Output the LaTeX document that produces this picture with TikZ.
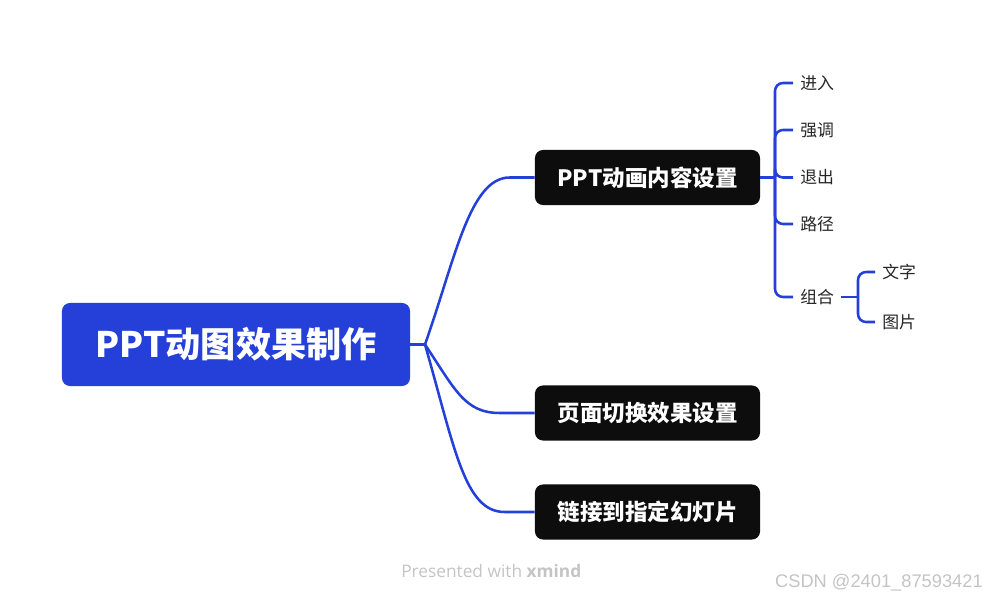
\documentclass[tikz,border=0pt]{standalone}
\usepackage{fontspec}
\setmainfont{Noto Sans CJK SC}
\newfontfamily\markfont{Open Sans}
\newfontfamily\csdnfont{Liberation Sans}
\usetikzlibrary{calc}

\definecolor{mapblue}{RGB}{36,64,216}
\definecolor{mapblack}{RGB}{13,13,13}
\definecolor{leafgray}{RGB}{38,38,38}
\definecolor{markgray}{RGB}{196,196,196}

\tikzset{
  rootbox/.style={fill=mapblue, rounded corners=0.2cm, minimum width=8.7cm,
    minimum height=2.075cm, text=white, font=\bfseries\fontsize{25}{30}\selectfont},
  topicbox/.style={fill=mapblack, rounded corners=0.2cm, minimum width=5.625cm,
    minimum height=1.375cm, text=white, font=\bfseries\fontsize{16}{19}\selectfont},
  leaf/.style={anchor=west, inner xsep=0.175cm, inner ysep=2pt, text=leafgray,
    font=\fontsize{12}{14}\selectfont},
  link/.style={draw=mapblue, line width=1.8pt},
}

\begin{document}
\begin{tikzpicture}[x=0.025cm, y=-0.025cm]
        \useasboundingbox (0,0) rectangle (987,602);

        % Central topic
        \node[rootbox] (root) at (236,344.5) {PPT动图效果制作};
        \coordinate (j0) at (425,344.5);

        % Main topics
        \node[topicbox] (t1) at (647.5,177.5) {PPT动画内容设置};
        \node[topicbox] (t2) at (647.5,413) {页面切换效果设置};
        \node[topicbox] (t3) at (647.5,512) {链接到指定幻灯片};

        % Links to main topics
        \draw[link] (root.east) -- (j0);
        \draw[link] (j0) .. controls +(30,-85) and +(-40,0) .. ($(t1.west)+(-25,0)$) -- (t1.west);
        \draw[link] (j0) .. controls +(30,45) and +(-35,0) .. ($(t2.west)+(-35,0)$) -- (t2.west);
        \draw[link] (j0) .. controls +(30,105) and +(-40,0) .. ($(t3.west)+(-30,0)$) -- (t3.west);

        % Subtopics of t1
        \coordinate (j1) at (775,177.5);
        \node[leaf] (enter) at (793,83) {进入};
        \node[leaf] (emph) at (793,130) {强调};
        \node[leaf] (exit) at (793,177.5) {退出};
        \node[leaf] (path) at (793,224) {路径};
        \node[leaf] (group) at (793,297) {组合};

        \draw[link] (t1.east) -- (j1);
        \foreach \leafname in {enter,emph,exit,path,group}
            \draw[link, rounded corners=0.2cm] (j1) |- (\leafname.west);

        % Subtopics of group
        \coordinate (j2) at (858,297);
        \node[leaf] (text) at (875,272) {文字};
        \node[leaf] (image) at (875,322) {图片};

        \draw[link] (group.east) -- (j2);
        \draw[link, rounded corners=0.2cm] (j2) |- (text.west);
        \draw[link, rounded corners=0.2cm] (j2) |- (image.west);

        % Footer
        \node[anchor=west, inner sep=0pt, text=markgray, font=\markfont\fontsize{12.3}{14}\selectfont]
            (credit) at (401,571) {Presented with \textbf{xmind}};
        \node[anchor=east, inner sep=0pt, text=markgray, font=\csdnfont\fontsize{13}{15}\selectfont]
            (mark) at (983,583) {CSDN @2401\_87593421};
    \end{tikzpicture}
\end{document}
